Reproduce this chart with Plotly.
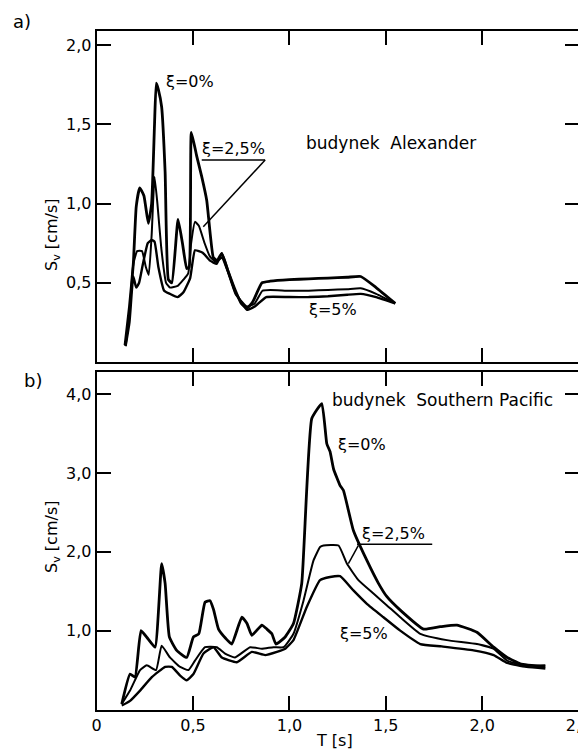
import plotly.graph_objects as go

# ---------------- data: panel a (budynek Alexander) ----------------
a_T0 = [0.147, 0.17, 0.19, 0.205, 0.223, 0.245, 0.268, 0.285, 0.30, 0.309, 0.32, 0.337, 0.355, 0.372, 0.39, 0.422,
        0.445, 0.467, 0.48, 0.491, 0.519, 0.545, 0.571, 0.605, 0.625, 0.649, 0.68, 0.72, 0.75, 0.78, 0.81, 0.857,
        0.9, 1.0, 1.1, 1.2, 1.3, 1.37, 1.45, 1.549]
a_S0 = [0.107, 0.35, 0.62, 0.98, 1.10, 1.05, 0.875, 1.0, 1.5, 1.76, 1.72, 1.61, 1.2, 0.52, 0.50, 0.90,
        0.75, 0.59, 0.60, 1.45, 1.30, 1.17, 1.02, 0.66, 0.64, 0.686, 0.58, 0.45, 0.37, 0.34, 0.38, 0.50,
        0.51, 0.52, 0.525, 0.53, 0.535, 0.54, 0.47, 0.37]

a_T25 = [0.15, 0.17, 0.19, 0.21, 0.235, 0.255, 0.27, 0.285, 0.30, 0.315, 0.335, 0.36, 0.38, 0.42, 0.45, 0.475,
         0.49, 0.51, 0.53, 0.56, 0.588, 0.62, 0.649, 0.68, 0.72, 0.78, 0.82, 0.86, 0.9, 1.0, 1.1, 1.2, 1.3,
         1.37, 1.45, 1.549]
a_S25 = [0.10, 0.30, 0.62, 0.70, 0.70, 0.60, 0.55, 0.80, 1.17, 1.0, 0.72, 0.50, 0.47, 0.48, 0.52, 0.56,
         0.75, 0.885, 0.86, 0.75, 0.665, 0.63, 0.66, 0.57, 0.43, 0.35, 0.37, 0.45, 0.455, 0.45, 0.45, 0.455,
         0.46, 0.465, 0.43, 0.37]

a_T5 = [0.15, 0.17, 0.19, 0.205, 0.22, 0.24, 0.265, 0.285, 0.30, 0.32, 0.35, 0.38, 0.42, 0.45, 0.485, 0.51,
        0.55, 0.588, 0.623, 0.649, 0.68, 0.72, 0.78, 0.82, 0.88, 1.0, 1.1, 1.2, 1.3, 1.37, 1.45, 1.549]
a_S5 = [0.10, 0.25, 0.54, 0.47, 0.50, 0.62, 0.75, 0.77, 0.76, 0.60, 0.45, 0.43, 0.41, 0.44, 0.53, 0.705,
        0.69, 0.64, 0.62, 0.686, 0.58, 0.44, 0.33, 0.35, 0.41, 0.41, 0.41, 0.415, 0.425, 0.43, 0.41, 0.37]

# ---------------- data: panel b (budynek Southern Pacific) ----------------
b_T0 = [0.13, 0.173, 0.199, 0.23, 0.265, 0.303, 0.337, 0.355, 0.377, 0.415, 0.467, 0.502, 0.53, 0.562, 0.588,
        0.606, 0.632, 0.67, 0.701, 0.753, 0.78, 0.805, 0.857, 0.883, 0.909, 0.93, 0.978, 1.021, 1.064, 1.116,
        1.168, 1.194, 1.211, 1.229, 1.263, 1.28, 1.332, 1.402, 1.462, 1.506, 1.575, 1.696, 1.782, 1.869, 1.973,
        2.06, 2.13, 2.198, 2.328]
b_S0 = [0.07, 0.45, 0.41, 1.0, 0.90, 0.79, 1.85, 1.6, 0.92, 0.75, 0.66, 0.92, 0.96, 1.36, 1.38,
        1.27, 1.02, 0.90, 0.83, 1.17, 1.09, 0.94, 1.07, 1.02, 0.96, 0.83, 0.92, 1.09, 1.6, 3.69,
        3.88, 3.37, 3.27, 3.05, 2.84, 2.78, 2.27, 1.89, 1.60, 1.43, 1.26, 1.02, 1.05, 1.07, 0.98,
        0.79, 0.66, 0.58, 0.54]

b_T25 = [0.13, 0.173, 0.225, 0.26, 0.308, 0.337, 0.38, 0.433, 0.476, 0.51, 0.562, 0.623, 0.666, 0.718, 0.796,
         0.857, 0.917, 0.97, 1.021, 1.073, 1.125, 1.159, 1.177, 1.255, 1.298, 1.358, 1.436, 1.506, 1.575, 1.679,
         1.817, 1.973, 2.06, 2.13, 2.215, 2.328]
b_S25 = [0.07, 0.24, 0.50, 0.56, 0.50, 0.81, 0.66, 0.54, 0.50, 0.62, 0.79, 0.79, 0.71, 0.66, 0.79,
         0.77, 0.79, 0.79, 0.96, 1.38, 1.89, 2.06, 2.08, 2.08, 1.85, 1.64, 1.47, 1.32, 1.17, 0.96,
         0.88, 0.83, 0.77, 0.62, 0.56, 0.56]

b_T5 = [0.13, 0.173, 0.225, 0.286, 0.355, 0.39, 0.433, 0.467, 0.502, 0.554, 0.606, 0.649, 0.727, 0.805, 0.874,
        0.935, 0.978, 1.021, 1.09, 1.159, 1.211, 1.263, 1.332, 1.402, 1.488, 1.575, 1.679, 1.79, 1.955, 2.06,
        2.13, 2.23, 2.328]
b_S5 = [0.05, 0.11, 0.24, 0.41, 0.54, 0.54, 0.43, 0.37, 0.45, 0.71, 0.79, 0.66, 0.60, 0.73, 0.69,
        0.73, 0.77, 0.88, 1.30, 1.64, 1.68, 1.69, 1.51, 1.34, 1.17, 1.0, 0.83, 0.80, 0.75, 0.69,
        0.59, 0.54, 0.52]

x_tickvals = [0, 0.5, 1.0, 1.5, 2.0, 2.5]
x_ticktext = ["0", "0,5", "1,0", "1,5", "2,0", "2,5"]
a_tickvals = [0.5, 1.0, 1.5, 2.0]
a_ticktext = ["0,5", "1,0", "1,5", "2,0"]
b_tickvals = [1.0, 2.0, 3.0, 4.0]
b_ticktext = ["1,0", "2,0", "3,0", "4,0"]

FONT = "DejaVu Sans"
# the page body has an 8px default margin: size the figure so it fills the window exactly
OFF = 8
W, H = 586 - OFF, 753 - OFF

def px(xw):  # window x pixel -> paper x
    return (xw - OFF) / W

def py(yw):  # window y pixel -> paper y
    return 1 - (yw - OFF) / H

fig = go.Figure()

def add(xs, ys, ax, width):
    fig.add_trace(go.Scatter(x=xs, y=ys, mode="lines", xaxis=ax[0], yaxis=ax[1],
                             line=dict(color="black", width=width, shape="spline", smoothing=0.4),
                             showlegend=False, hoverinfo="skip"))

add(a_T0, a_S0, ("x", "y"), 2.8)
add(a_T25, a_S25, ("x", "y"), 2.0)
add(a_T5, a_S5, ("x", "y"), 2.4)
add(b_T0, b_S0, ("x2", "y2"), 2.8)
add(b_T25, b_S25, ("x2", "y2"), 2.0)
add(b_T5, b_S5, ("x2", "y2"), 2.4)

xdom = [px(96.7), px(578.5)]
ya_dom = [py(362), py(31)]
yb_dom = [py(709.5), py(372)]

axis_common = dict(showline=True, linecolor="black", linewidth=2, mirror="ticks", ticks="inside",
                   ticklen=14, tickwidth=1.5, tickcolor="black", showgrid=False, zeroline=False,
                   automargin=False, ticklabeloverflow="allow",
                   tickfont=dict(family=FONT, size=16, color="black"))

fig.update_layout(
    width=W, height=H, margin=dict(l=0, r=0, t=0, b=0, autoexpand=False),
    paper_bgcolor="white", plot_bgcolor="white",
    xaxis=dict(domain=xdom, range=[0, 2.5], anchor="y", tickvals=x_tickvals[1:-1],
               showticklabels=False, **axis_common),
    yaxis=dict(domain=ya_dom, range=[0, 2.09], anchor="x", tickvals=a_tickvals,
               ticktext=a_ticktext, **axis_common),
    xaxis2=dict(domain=xdom, range=[0, 2.5], anchor="y2", tickvals=x_tickvals,
                ticktext=x_ticktext, **axis_common),
    yaxis2=dict(domain=yb_dom, range=[0, 4.28], anchor="x2", tickvals=b_tickvals,
                ticktext=b_ticktext, **axis_common),
)

def txt(x, y, s, xref="x", yref="y", size=16, angle=0):
    fig.add_annotation(x=x, y=y, xref=xref, yref=yref, text=s, showarrow=False, textangle=angle,
                       font=dict(family=FONT, size=size, color="black"), xanchor="center", yanchor="middle")

# panel a texts
txt(0.484, 1.77, "ξ=0%")
txt(0.708, 1.35, "ξ=2,5%")
txt(1.528, 1.38, "budynek  Alexander", size=17)
txt(1.228, 0.33, "ξ=5%")
# panel b texts
txt(1.793, 3.92, "budynek  Southern Pacific", "x2", "y2", size=17)
txt(1.378, 3.365, "ξ=0%", "x2", "y2")
txt(1.538, 2.235, "ξ=2,5%", "x2", "y2")
txt(1.388, 0.965, "ξ=5%", "x2", "y2")

# leader lines
fig.add_shape(type="line", xref="x", yref="y", x0=0.545, y0=1.275, x1=0.874, y1=1.275,
              line=dict(color="black", width=1.5))
fig.add_shape(type="line", xref="x", yref="y", x0=0.874, y0=1.275, x1=0.553, y1=0.854,
              line=dict(color="black", width=1.5))
fig.add_shape(type="line", xref="x2", yref="y2", x0=1.351, y0=2.095, x1=1.741, y1=2.095,
              line=dict(color="black", width=1.5))
fig.add_shape(type="line", xref="x2", yref="y2", x0=1.358, y0=2.08, x1=1.306, y1=1.85,
              line=dict(color="black", width=1.5))

# panel labels and axis titles
txt(px(22), py(22), "a)", "paper", "paper", size=18)
txt(px(33), py(380), "b)", "paper", "paper", size=18)
txt(px(52), py(235), "S<sub>v</sub> [cm/s]", "paper", "paper", size=16, angle=-90)
txt(px(52), py(537), "S<sub>v</sub> [cm/s]", "paper", "paper", size=16, angle=-90)
txt(px(334), py(740), "T [s]", "paper", "paper", size=16)

fig.write_html("out.html")
